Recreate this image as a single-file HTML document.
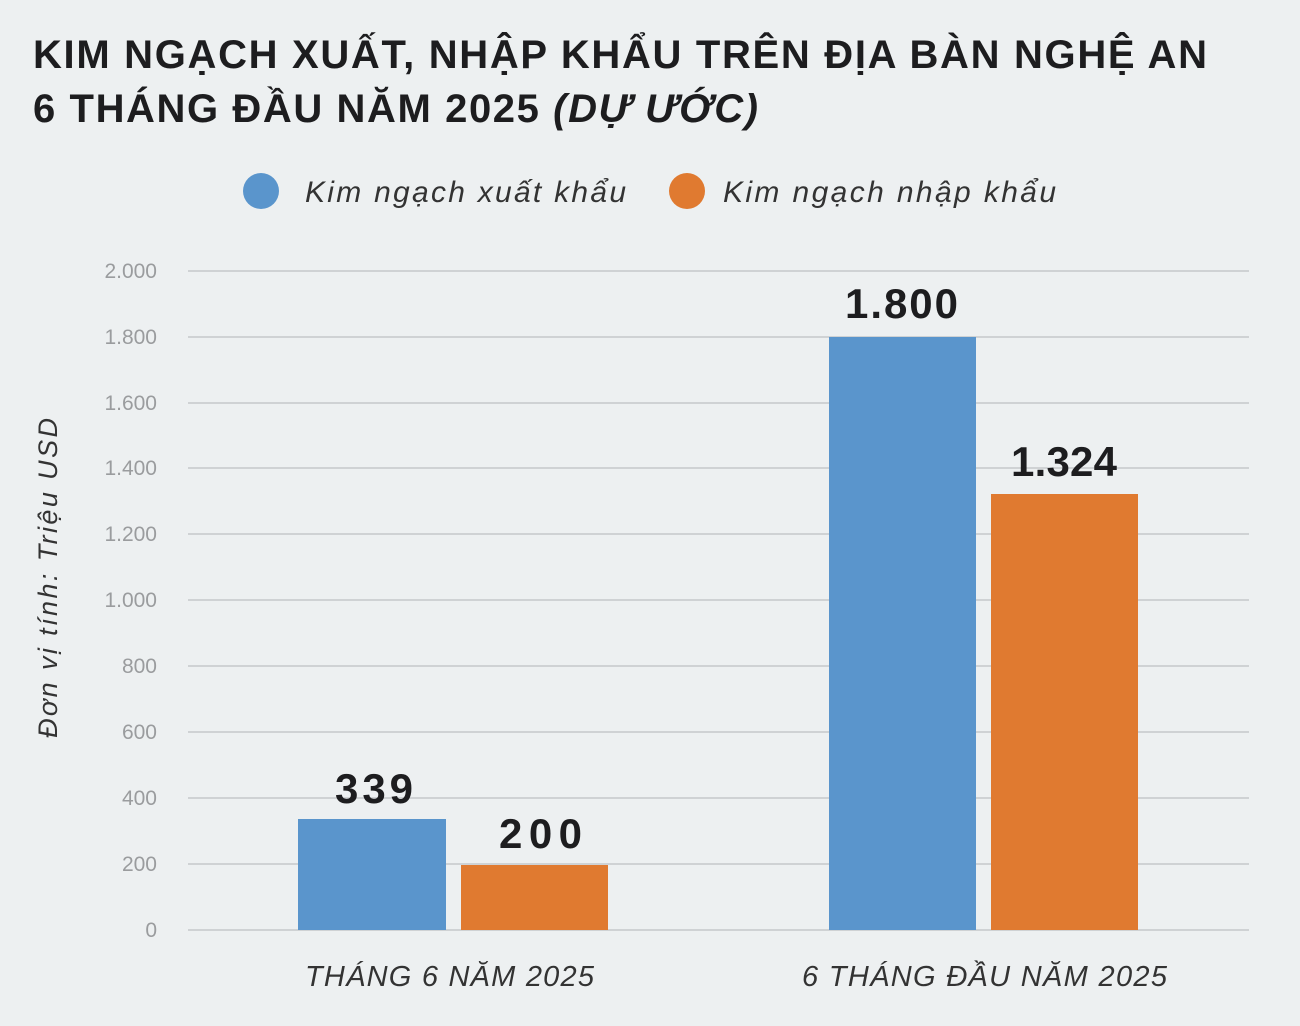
<!DOCTYPE html>
<html><head><meta charset="utf-8"><style>
body{margin:0;width:1300px;height:1021px;background:#edf0f1;overflow:hidden;font-family:"Liberation Sans","DejaVu Sans",sans-serif;}
</style></head><body>
<svg width="1300" height="1021" xmlns="http://www.w3.org/2000/svg">
<rect width="1300" height="1021" fill="#edf0f1"/>
<g font-family="Liberation Sans, DejaVu Sans, sans-serif" font-weight="bold" fill="#1d1d1f" font-size="40">
<text x="33" y="68" textLength="1174" lengthAdjust="spacing">KIM NGẠCH XUẤT, NHẬP KHẨU TRÊN ĐỊA BÀN NGHỆ AN</text>
<text x="33" y="122" textLength="725" lengthAdjust="spacing">6 THÁNG ĐẦU NĂM 2025 <tspan font-style="italic">(DỰ ƯỚC)</tspan></text>
</g>
<circle cx="261" cy="191" r="18" fill="#5a95cc"/>
<text x="305" y="202" font-size="30" font-style="italic" fill="#333" textLength="321" lengthAdjust="spacing">Kim ngạch xuất khẩu</text>
<circle cx="687" cy="191" r="18" fill="#e07a30"/>
<text x="723" y="202" font-size="30" font-style="italic" fill="#333" textLength="333" lengthAdjust="spacing">Kim ngạch nhập khẩu</text>
<g stroke="#cfd2d4" stroke-width="2">
<line x1="188" x2="1249" y1="271" y2="271"/><line x1="188" x2="1249" y1="337" y2="337"/>
<line x1="188" x2="1249" y1="403" y2="403"/><line x1="188" x2="1249" y1="468" y2="468"/>
<line x1="188" x2="1249" y1="534" y2="534"/><line x1="188" x2="1249" y1="600" y2="600"/>
<line x1="188" x2="1249" y1="666" y2="666"/><line x1="188" x2="1249" y1="732" y2="732"/>
<line x1="188" x2="1249" y1="798" y2="798"/><line x1="188" x2="1249" y1="864" y2="864"/>
<line x1="188" x2="1249" y1="930" y2="930"/>
</g>
<g font-size="21" fill="#9a9c9e" text-anchor="end" font-family="Liberation Sans Narrow, Liberation Sans, sans-serif">
<text x="157" y="278">2.000</text><text x="157" y="344">1.800</text><text x="157" y="410">1.600</text>
<text x="157" y="475">1.400</text><text x="157" y="541">1.200</text><text x="157" y="607">1.000</text>
<text x="157" y="673">800</text><text x="157" y="739">600</text><text x="157" y="805">400</text>
<text x="157" y="871">200</text><text x="157" y="937">0</text>
</g>
<text transform="translate(57,578) rotate(-90)" text-anchor="middle" font-size="27" font-style="italic" fill="#333" textLength="320" lengthAdjust="spacing">Đơn vị tính: Triệu USD</text>
<rect x="298" y="819" width="148" height="111" fill="#5a95cc"/>
<rect x="461" y="865" width="147" height="65" fill="#e07a30"/>
<rect x="829" y="337" width="147" height="593" fill="#5a95cc"/>
<rect x="991" y="494" width="147" height="436" fill="#e07a30"/>
<g font-size="42" font-weight="bold" fill="#1d1d1f">
<text x="335" y="803" textLength="78">339</text><text x="499" y="848" textLength="83">200</text>
<text x="845" y="318" textLength="113">1.800</text><text x="1011" y="476" textLength="106">1.324</text>
</g>
<g font-size="29" font-style="italic" fill="#333">
<text x="305" y="986" textLength="289" lengthAdjust="spacing">THÁNG 6 NĂM 2025</text>
<text x="802" y="986" textLength="365" lengthAdjust="spacing">6 THÁNG ĐẦU NĂM 2025</text>
</g>
</svg>
</body></html>
